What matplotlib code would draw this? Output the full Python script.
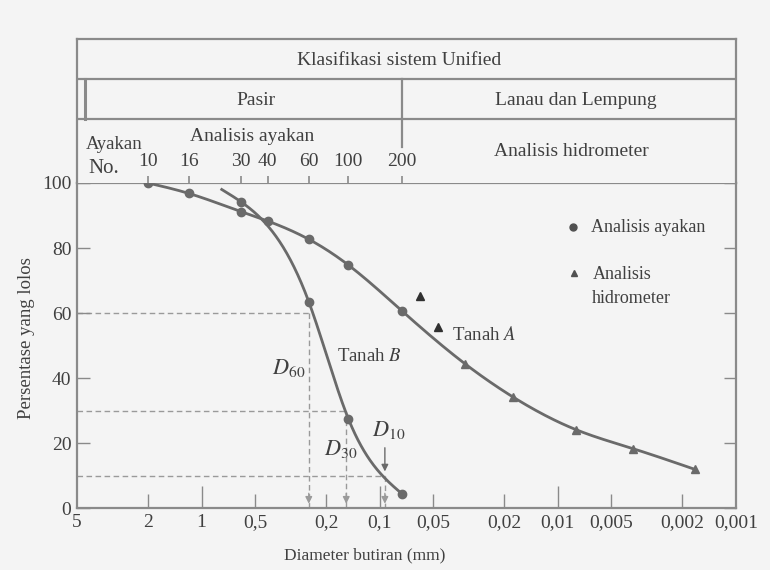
import numpy as np
import matplotlib.pyplot as plt
from matplotlib.transforms import blended_transform_factory

plt.rcParams['font.family'] = ['Liberation Serif', 'DejaVu Serif']
plt.rcParams['mathtext.fontset'] = 'stix'

# --- data --------------------------------------------------------------
# Tanah A: analisis ayakan (lingkaran)
a_sieve_mm = [2.0, 1.18, 0.6, 0.425, 0.25, 0.15, 0.075]
a_sieve_pct = [100, 96.8, 91.2, 88.3, 82.7, 74.8, 60.7]
# Tanah A: analisis hidrometer (segitiga) di atas kurva
a_hydro_mm = [0.0333, 0.0178, 0.0079, 0.0038, 0.0017]
a_hydro_pct = [44.5, 34.2, 24.2, 18.4, 12.0]
# dua titik hidrometer yang lepas dari kurva
a_loose_mm = [0.0596, 0.0469]
a_loose_pct = [65.3, 55.7]

# Tanah B: awal kurva + titik ayakan
b_start_mm = [0.77]
b_start_pct = [98]
b_sieve_mm = [0.6, 0.25, 0.15, 0.075]
b_sieve_pct = [94.2, 63.5, 27.6, 4.5]

# D60, D30, D10 tanah B
d_pct = [60, 30, 10]
d_mm = [0.25, 0.154, 0.0935]
d_names = ['$D_{60}$', '$D_{30}$', '$D_{10}$']

# nomor ayakan dan bukaannya (mm)
sieve_no = ['10', '16', '30', '40', '60', '100', '200']
sieve_open = [2.0, 1.18, 0.6, 0.425, 0.25, 0.15, 0.075]

xtick_mm = [5, 2, 1, 0.5, 0.2, 0.1, 0.05, 0.02, 0.01, 0.005, 0.002, 0.001]
xtick_lbl = ['5', '2', '1', '0,5', '0,2', '0,1', '0,05', '0,02', '0,01',
             '0,005', '0,002', '0,001']
ytick_pct = [0, 20, 40, 60, 80, 100]

LINE = '#6a6a6a'
BOX = '#8a8a8a'
TXT = '#404040'
DASH = '#9a9a9a'
BG = '#f4f4f4'


def natural_spline(x, y, xs):
    # natural cubic spline, x increasing
    x = np.asarray(x, float)
    y = np.asarray(y, float)
    n = len(x)
    h = np.diff(x)
    A = np.zeros((n, n))
    r = np.zeros(n)
    A[0, 0] = A[-1, -1] = 1
    for i in range(1, n - 1):
        A[i, i - 1] = h[i - 1]
        A[i, i] = 2 * (h[i - 1] + h[i])
        A[i, i + 1] = h[i]
        r[i] = 3 * ((y[i + 1] - y[i]) / h[i] - (y[i] - y[i - 1]) / h[i - 1])
    c = np.linalg.solve(A, r)
    b = np.diff(y) / h - h * (2 * c[:-1] + c[1:]) / 3
    d = np.diff(c) / (3 * h)
    idx = np.clip(np.searchsorted(x, xs) - 1, 0, n - 2)
    t = xs - x[idx]
    return y[idx] + b[idx] * t + c[idx] * t**2 + d[idx] * t**3


def smooth_curve(mm, pct, n=300):
    u = -np.log10(mm)
    us = np.linspace(u[0], u[-1], n)
    return 10 ** (-us), natural_spline(u, pct, us)


fig = plt.figure(figsize=(7.7, 5.7), dpi=100, facecolor=BG)
ax = fig.add_axes([0.1, 0.108, 0.8558, 0.571], facecolor=BG)
ax.set_xscale('log')
ax.set_xlim(5, 0.001)
ax.set_ylim(0, 100)

# garis bantu D60 / D30 / D10
for p, dm in zip(d_pct, d_mm):
    ax.plot([5, dm], [p, p], ls=(0, (4, 2.5)), color=DASH, lw=1, zorder=1)
    ax.plot([dm, dm], [p, 0], ls=(0, (4, 2.5)), color=DASH, lw=1, zorder=1)
    ax.annotate('', xy=(dm, 0.6), xytext=(dm, 5.5),
                arrowprops=dict(arrowstyle='-|>', color=DASH, lw=1,
                                mutation_scale=10))
ax.annotate('', xy=(d_mm[2], d_pct[2] + 0.5), xytext=(d_mm[2], 19.5),
            arrowprops=dict(arrowstyle='-|>', color=LINE, lw=1,
                            mutation_scale=10))

# kurva tanah A
a_mm = a_sieve_mm + a_hydro_mm
a_pct = a_sieve_pct + a_hydro_pct
xs, ys = smooth_curve(a_mm, a_pct)
ax.plot(xs, ys, color=LINE, lw=2, zorder=3)
ax.plot(a_sieve_mm, a_sieve_pct, 'o', color=LINE, ms=6, zorder=4)
ax.plot(a_hydro_mm, a_hydro_pct, '^', color=LINE, ms=6, zorder=4)
ax.plot(a_loose_mm, a_loose_pct, '^', color='#303030', ms=6, zorder=4)

# kurva tanah B
xs, ys = smooth_curve(b_start_mm + b_sieve_mm, b_start_pct + b_sieve_pct)
ax.plot(xs, ys, color=LINE, lw=2, zorder=3)
ax.plot(b_sieve_mm, b_sieve_pct, 'o', color=LINE, ms=6, zorder=4)

# label pada grafik
ax.text(0.0393, 53.2, 'Tanah $A$', fontsize=13.5, color=TXT, va='center')
ax.text(0.174, 46.6, 'Tanah $B$', fontsize=13.5, color=TXT, va='center')
ax.text(0.323, 43, d_names[0], fontsize=16, color=TXT, ha='center', va='center')
ax.text(0.1656, 18.4, d_names[1], fontsize=16, color=TXT, ha='center', va='center')
ax.text(0.0887, 24, d_names[2], fontsize=16, color=TXT, ha='center', va='center')

# keterangan simbol
ax.plot([0.00818], [86.4], 'o', color='#505050', ms=5)
ax.text(0.00653, 86.4, 'Analisis ayakan', fontsize=13, color=TXT, va='center')
ax.plot([0.00815], [72.4], '^', color='#505050', ms=5)
ax.text(0.0064, 72, 'Analisis', fontsize=13, color=TXT, va='center')
ax.text(0.0064, 64.6, 'hidrometer', fontsize=13, color=TXT, va='center')

# sumbu
ax.set_xticks(xtick_mm)
ax.set_xticklabels(xtick_lbl, fontsize=14, color=TXT)
ax.xaxis.set_minor_locator(plt.NullLocator())
ax.tick_params(axis='x', direction='in', length=10, width=1, color=BOX, pad=4)
for tk, v in zip(ax.xaxis.get_major_ticks(), xtick_mm):
    if v in (5, 0.001):
        tk.tick1line.set_markersize(0)
    elif v in (1, 0.1, 0.01):
        tk.tick1line.set_markersize(16)
ax.set_yticks(ytick_pct)
ax.set_yticklabels([str(v) for v in ytick_pct], fontsize=14, color=TXT)
ax.tick_params(axis='y', direction='in', length=9, width=1, color=BOX,
               right=True, pad=4)
for s in ax.spines.values():
    s.set_color(BOX)
    s.set_linewidth(1.6)

fig.text(0.0347, 0.407, 'Persentase yang lolos', rotation=90, fontsize=13.5,
         color=TXT, ha='center', va='center')
fig.text(0.474, 0.026, 'Diameter butiran (mm)', fontsize=12.5, color=TXT,
         ha='center', va='center')

# kepala tabel klasifikasi (y dalam piksel dari atas)
hdr = fig.add_axes([0.1, 0.679, 0.8558, 0.2526], facecolor=BG)
hdr.set_xscale('log')
hdr.set_xlim(5, 0.001)
hdr.set_ylim(183, 39)
hdr.set_xticks([])
hdr.set_yticks([])
hdr.xaxis.set_minor_locator(plt.NullLocator())
hdr.spines['bottom'].set_visible(False)
for s in ('top', 'left', 'right'):
    hdr.spines[s].set_color(BOX)
    hdr.spines[s].set_linewidth(1.6)
hdr.axhline(79, color=BOX, lw=1.6)
hdr.axhline(119, color=BOX, lw=1.6)
hdr.plot([4.5, 4.5], [79, 119], color=BOX, lw=2.2)
hdr.plot([sieve_open[-1]] * 2, [79, 147], color=BOX, lw=1.6)
hdr.vlines(sieve_open, 176, 183, color=BOX, lw=1.2)
for no, mm in zip(sieve_no, sieve_open):
    hdr.text(mm, 161.7, no, fontsize=14, color=TXT, ha='center', va='center')

tr = blended_transform_factory(hdr.transAxes, hdr.transData)
hdr.text(0.489, 60.5, 'Klasifikasi sistem Unified', transform=tr, fontsize=14,
         color=TXT, ha='center', va='center')
hdr.text(0.272, 100.5, 'Pasir', transform=tr, fontsize=14, color=TXT,
         ha='center', va='center')
hdr.text(0.757, 100.5, 'Lanau dan Lempung', transform=tr, fontsize=14,
         color=TXT, ha='center', va='center')
hdr.text(0.75, 151.7, 'Analisis hidrometer', transform=tr, fontsize=14,
         color=TXT, ha='center', va='center')
hdr.text(0.266, 137, 'Analisis ayakan', transform=tr, fontsize=14, color=TXT,
         ha='center', va='center')
hdr.text(0.013, 145, 'Ayakan', transform=tr, fontsize=13.5, color=TXT,
         ha='left', va='center')
hdr.text(0.017, 168.5, 'No.', transform=tr, fontsize=15, color=TXT,
         ha='left', va='center')

fig.savefig('out.png', dpi=100, facecolor=BG)
